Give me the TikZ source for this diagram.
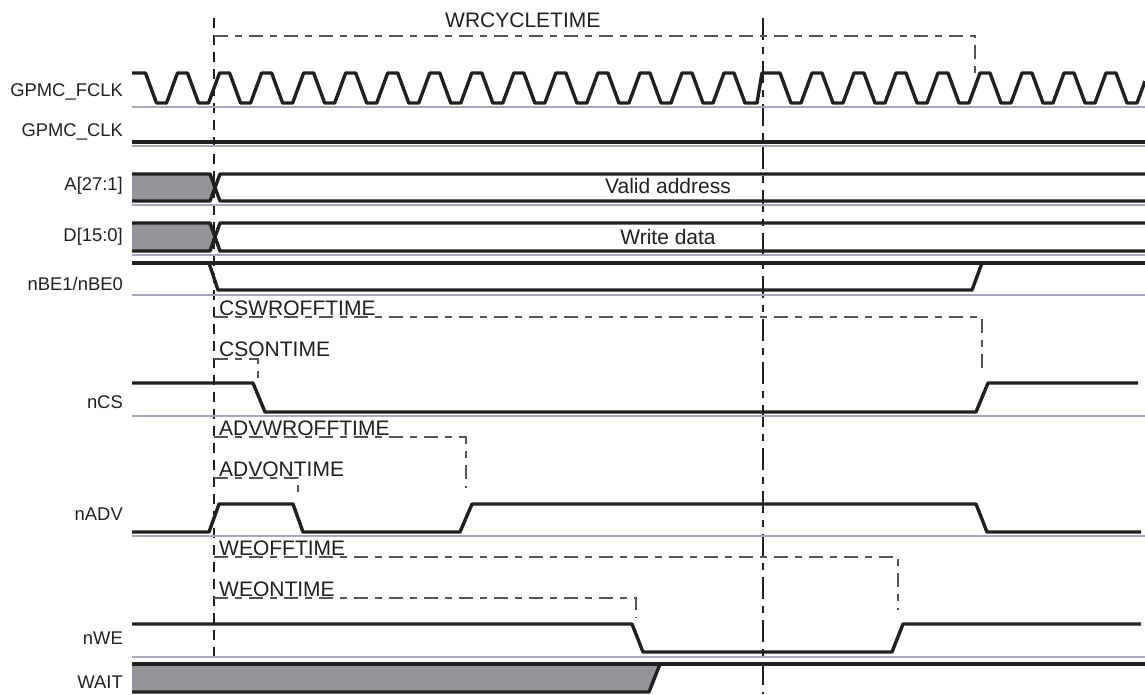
\documentclass[tikz,border=0pt]{standalone}
\usepackage{fontspec}
\setmainfont{Liberation Sans}
\definecolor{ink}{RGB}{35,31,32}
\definecolor{busgray}{RGB}{147,149,152}
\definecolor{floorcol}{RGB}{168,168,188}
\definecolor{dashgray}{RGB}{85,85,85}
\tikzset{
  sig/.style={
    line width=3.4pt,
    draw=ink,
    line join=round
  },
  floor/.style={
    line width=1.6pt,
    draw=floorcol
  },
  busfill/.style={
    fill=busgray,
    draw=none
  },
  refa/.style={
    draw=ink,
    line width=1.1pt,
    dash pattern=on 10pt off 7pt
  },
  refb/.style={
    draw=ink,
    line width=1.1pt,
    dash pattern=on 22pt off 7pt on 7pt off 7pt
  },
  tdash/.style={
    draw=dashgray,
    line width=1.1pt,
    dash pattern=on 14pt off 7pt on 7pt off 7pt
  },
}
\tikzset{
  siglabel/.style={
    anchor=east,
    inner sep=0pt,
    text=ink,
    font=\fontsize{18.4}{20}\selectfont
  },
  tlabel/.style={
    anchor=base west,
    inner sep=0pt,
    text=ink,
    font=\fontsize{21}{24}\selectfont
  },
  buslabel/.style={
    anchor=base,
    inner sep=0pt,
    text=ink,
    font=\fontsize{21}{24}\selectfont
  },
}
\begin{document}
\begin{tikzpicture}[x=1pt,y=-1pt]
  \useasboundingbox (0,0) rectangle (1145,694);
  % start of cycle and WRCYCLETIME
  \draw[refa] (214,18) -- (214,694);
  \draw[refb] (763,18) -- (763,694);
  % grey rails under each signal
  \foreach \y in {107,146,205,255,295,416,536,657}
    \draw[floor] (132,\y) -- (1145,\y);
  % timing parameters
  \draw[tdash] (214,36) -- (975,36) -- (975,74);
  \draw[tdash] (214,317) -- (982,317) -- (982,368);
  \draw[tdash] (214,359) -- (258,359) -- (258,378);
  \draw[tdash] (214,437) -- (466,437) -- (466,488);
  \draw[tdash] (214,478) -- (298,478) -- (298,497);
  \draw[tdash] (214,557) -- (898,557) -- (898,610);
  \draw[tdash] (214,598) -- (636,598) -- (636,618);
  \node[tlabel] (wrcyc) at (445,27) {WRCYCLETIME};
  \node[tlabel] (cswroff) at (219,315) {CSWROFFTIME};
  \node[tlabel] (cson) at (219,356) {CSONTIME};
  \node[tlabel] (advwroff) at (219,435) {ADVWROFFTIME};
  \node[tlabel] (advon) at (219,476) {ADVONTIME};
  \node[tlabel] (weoff) at (219,555) {WEOFFTIME};
  \node[tlabel] (weon) at (219,596) {WEONTIME};
  % GPMC_FCLK
  \draw[sig] (132,73) \foreach \k in {0,...,13} {
      -- ({145.5+42.04*\k},73) -- ({156.5+42.04*\k},103)
      -- ({166.5+42.04*\k},103) -- ({177.5+42.04*\k},73) }
    -- (734,73) -- (745,103) -- (757,103) -- (762,73)
    \foreach \k in {0,...,7} {
      -- ({780+42*\k},73) -- ({791+42*\k},103)
      -- ({801+42*\k},103) -- ({812+42*\k},73) }
    -- (1116,73) -- (1127,103) -- (1137,103) -- (1145,81.2);
  % GPMC_CLK
  \draw[sig] (132,142) -- (1145,142);
  % A[27:1]
  \fill[busfill] (132,174) -- (210,174) -- (215,187.5) -- (210,201) -- (132,201) -- cycle;
  \draw[sig] (132,174) -- (210,174) -- (220,201) -- (1145,201);
  \draw[sig] (132,201) -- (210,201) -- (220,174) -- (1145,174);
  % D[15:0]
  \fill[busfill] (132,223) -- (210,223) -- (215,237) -- (210,251) -- (132,251) -- cycle;
  \draw[sig] (132,223) -- (210,223) -- (220,251) -- (1145,251);
  \draw[sig] (132,251) -- (210,251) -- (220,223) -- (1145,223);
  % nBE1/nBE0
  \draw[sig] (132,263) -- (1145,263);
  \draw[sig] (209,263) -- (218,290) -- (972,290) -- (982,263);
  % nCS
  \draw[sig] (132,383) -- (253,383) -- (265,412) -- (976,412) -- (988,383) -- (1138,383);
  % nADV
  \draw[sig] (132,532) -- (209,532) -- (219,504) -- (293,504) -- (303,532)
    -- (460,532) -- (472,504) -- (976,504) -- (987,532) -- (1141,532);
  % nWE
  \draw[sig] (132,624) -- (632,624) -- (643,652) -- (892,652) -- (903,624) -- (1141,624);
  % WAIT
  \fill[busfill] (132,664) -- (660,664) -- (649,692) -- (132,692) -- cycle;
  \draw[sig] (132,692) -- (649,692) -- (660,664);
  \draw[sig] (132,664) -- (1145,664);
  % bus contents
  \node[buslabel] (addr) at (668,193) {Valid address};
  \node[buslabel] (wdata) at (668,244) {Write data};
  % signal names
  \node[siglabel] (fclk) at (123,92) {GPMC\_FCLK};
  \node[siglabel] (clk) at (123,132) {GPMC\_CLK};
  \node[siglabel] (abus) at (123,186) {A[27:1]};
  \node[siglabel] (dbus) at (123,237) {D[15:0]};
  \node[siglabel] (nbe) at (123,284) {nBE1/nBE0};
  \node[siglabel] (ncs) at (123,402) {nCS};
  \node[siglabel] (nadv) at (123,514) {nADV};
  \node[siglabel] (nwe) at (123,638) {nWE};
  \node[siglabel] (wait) at (123,682) {WAIT};
\end{tikzpicture}
\end{document}
